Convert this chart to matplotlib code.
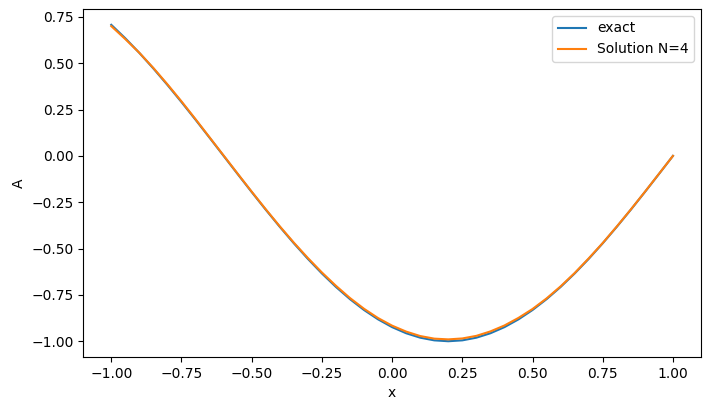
import matplotlib

matplotlib.use("Agg")
import matplotlib.pyplot as plt
import numpy as np

# values
x_exact = np.linspace(-1.0, 1.0, 41)
a_exact = [0.7071, 0.6344, 0.5556, 0.4714, 0.3827, 0.2903, 0.1951, 0.0980,
           0.0, -0.0980, -0.1951, -0.2903, -0.3827, -0.4714, -0.5556, -0.6344,
           -0.7071, -0.7730, -0.8315, -0.8819, -0.9239, -0.9569, -0.9808, -0.9952,
           -1.0, -0.9952, -0.9808, -0.9569, -0.9239, -0.8819, -0.8315, -0.7730,
           -0.7071, -0.6344, -0.5556, -0.4714, -0.3827, -0.2903, -0.1951, -0.0980,
           0.0]

x_sol = np.linspace(-1.0, 1.0, 41)
a_sol = [0.700, 0.630, 0.556, 0.474, 0.386, 0.294, 0.198, 0.100, 0.002,
         -0.096, -0.193, -0.288, -0.380, -0.468, -0.551, -0.629, -0.701,
         -0.767, -0.825, -0.875, -0.916, -0.948, -0.972, -0.986, -0.990,
         -0.985, -0.971, -0.947, -0.915, -0.874, -0.826, -0.769, -0.704,
         -0.632, -0.553, -0.470, -0.381, -0.289, -0.194, -0.097, 0.0]

fig, ax = plt.subplots(figsize=(7.11, 4.09))
ax.plot(x_exact, a_exact, label="exact")
ax.plot(x_sol, a_sol, label="Solution N=4")
ax.set_xlabel("x")
ax.set_ylabel("A")
ax.legend()
fig.subplots_adjust(left=0.117, right=0.986, top=0.978, bottom=0.127)
fig.savefig("out.png", dpi=100)
